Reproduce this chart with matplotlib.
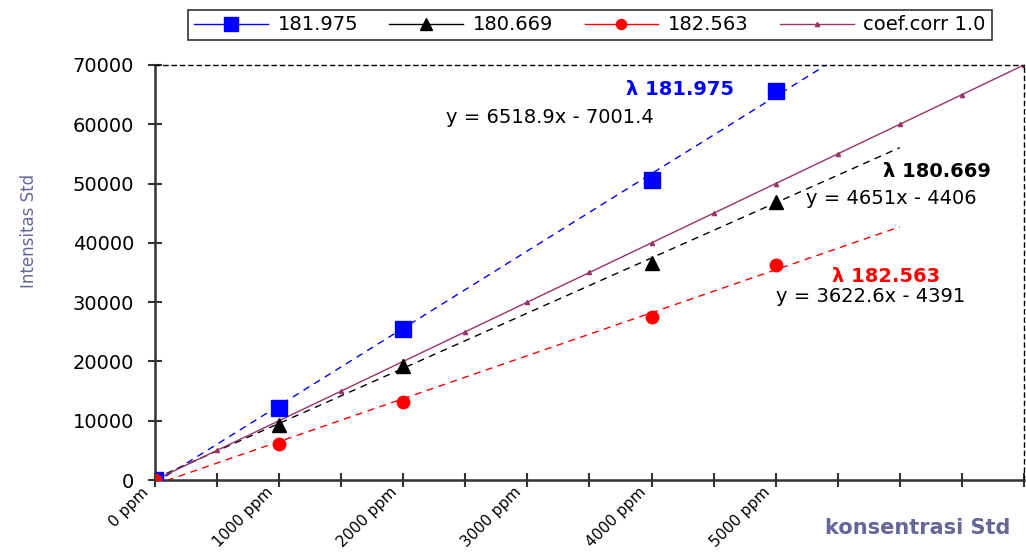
import matplotlib.pyplot as plt
from matplotlib.lines import Line2D
import matplotlib.transforms as mtransforms
import numpy as np

# data
ppm = [0, 1000, 2000, 4000, 5000]
s181975 = [0, 12100, 25450, 50600, 65600]
s180669 = [0, 9200, 19250, 36600, 46900]
s182563 = [0, 6100, 13150, 27500, 36250]

# coef.corr 1.0 reference line (every 500 ppm)
corr_x = [0, 500, 1000, 1500, 2000, 2500, 3000, 3500, 4000, 4500, 5000, 5500, 6000, 6500, 7000]
corr_y = [0, 5000, 10000, 15000, 20000, 25000, 30000, 35000, 40000, 45000, 50000, 55000, 60000, 65000, 70000]

# Excel trendlines: x is the category index (1 = 0 ppm, step 500 ppm)
trend_slope = [6518.9, 4651, 3622.6]
trend_icpt = [-7001.4, -4406, -4391]
trend_end_ppm = 6000

xtick_pos = [0, 500, 1000, 1500, 2000, 2500, 3000, 3500, 4000, 4500, 5000, 5500, 6000, 6500, 7000]
xtick_labels = ["0 ppm", "", "1000 ppm", "", "2000 ppm", "", "3000 ppm", "",
                "4000 ppm", "", "5000 ppm", "", "", "", ""]

plt.rcParams['font.family'] = ['DejaVu Sans']

fig = plt.figure(figsize=(10.26, 5.53), dpi=100)
ax = fig.add_axes([0.151, 0.132, 0.847, 0.7505])

colors = ["#0000FF", "#000000", "#FF0000"]
markers = ["s", "^", "o"]
msizes = [12, 10, 9]
series = [s181975, s180669, s182563]
names = ["181.975", "180.669", "182.563"]

# trendlines
tx = np.linspace(0, trend_end_ppm, 50)
for sl, ic, c in zip(trend_slope, trend_icpt, colors):
    ax.plot(tx, sl * (tx / 500 + 1) + ic, color=c, linestyle=(0, (5, 4)), linewidth=1)

# reference line
ax.plot(corr_x, corr_y, color="#993366", linewidth=1, marker="^", markersize=3)

for y, c, m, ms in zip(series, colors, markers, msizes):
    ax.plot(ppm, y, linestyle="none", marker=m, markersize=ms, color=c, zorder=5)

ax.set_xlim(0, 7000)
ax.set_ylim(0, 70000)
ax.set_yticks(range(0, 70001, 10000))
ax.set_xticks(xtick_pos)
ax.set_xticklabels(xtick_labels, rotation=45, ha="right", va="center",
                   rotation_mode="anchor", fontsize=11)
ax.tick_params(axis="both", direction="inout", length=10, width=1.5,
               color="#333333")
ax.tick_params(axis="y", pad=10, labelsize=14)
ax.tick_params(axis="x", pad=2)
shift = mtransforms.ScaledTranslation(-6 / 72, 0, fig.dpi_scale_trans)
for lbl in ax.get_xticklabels():
    lbl.set_transform(lbl.get_transform() + shift)

for side in ["top", "right"]:
    ax.spines[side].set_linestyle((0, (3, 3)))
    ax.spines[side].set_linewidth(1)
for side in ["left", "bottom"]:
    ax.spines[side].set_linewidth(1.8)
    ax.spines[side].set_color("#333333")

ax.set_ylabel("Intensitas Std", color="#666699", fontsize=12)
ax.yaxis.set_label_coords(-0.135, 0.6)
fig.text(0.985, 0.045, "konsentrasi Std", color="#666699", fontsize=15,
         fontweight="bold", ha="right", va="center")

# annotations
ax.text(4661, 65780, "λ 181.975", color="#0000FF", fontsize=14, fontweight="bold",
        ha="right", va="center")
ax.text(2347, 61060, "y = 6518.9x - 7001.4", color="#000000", fontsize=14,
        ha="left", va="center")
ax.text(6735, 51950, "λ 180.669", color="#000000", fontsize=14, fontweight="bold",
        ha="right", va="center")
ax.text(5248, 47560, "y = 4651x - 4406", color="#000000", fontsize=14,
        ha="left", va="center")
ax.text(6325, 34240, "λ 182.563", color="#FF0000", fontsize=14, fontweight="bold",
        ha="right", va="center")
ax.text(4999, 30870, "y = 3622.6x - 4391", color="#000000", fontsize=14,
        ha="left", va="center")

handles = [Line2D([], [], color=c, marker=m, markersize=ms * 0.8, linewidth=1)
           for c, m, ms in zip(colors, markers, msizes)]
handles.append(Line2D([], [], color="#993366", marker="^", markersize=3, linewidth=1))
leg = fig.legend(handles, names + ["coef.corr 1.0"], loc="center", ncol=4,
                 bbox_to_anchor=(0.575, 0.955), fontsize=14, frameon=True,
                 fancybox=False, edgecolor="black", handlelength=3.8,
                 columnspacing=1.6, handletextpad=0.5, borderpad=0.3)
leg.get_frame().set_linewidth(1.2)

fig.savefig("out.png", dpi=100)
